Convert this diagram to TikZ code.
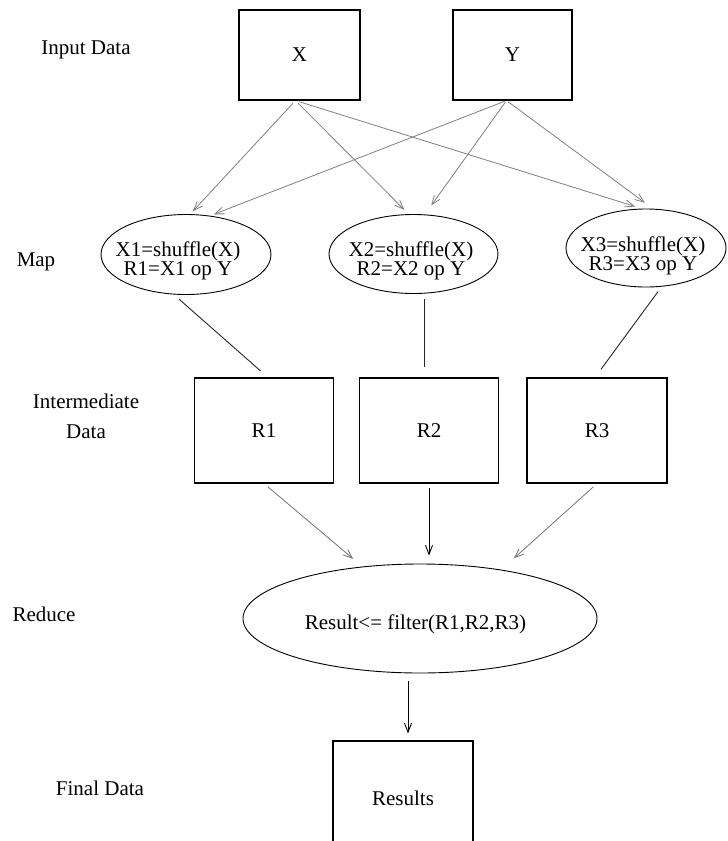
\documentclass[tikz,border=0pt]{standalone}
\usepackage{fontspec}
\setmainfont{Liberation Serif}
\usetikzlibrary{arrows.meta,shapes.geometric}
\begin{document}
\begin{tikzpicture}[x=1pt,y=-1pt,
  lbl/.style={font=\fontsize{21}{30}\selectfont, align=center, inner sep=0pt},
  databox/.style={draw, line width=1.1pt, minimum width=139pt, minimum height=105pt,
    inner sep=0pt, font=\fontsize{21}{25}\selectfont},
  oval/.style={draw, ellipse, line width=0.9pt, inner sep=0pt},
  ovaltext/.style={font=\fontsize{21}{16.5}\selectfont, align=center, inner sep=0pt},
  tip/.style={-{Straight Barb[length=9pt,width=7pt]}},
  feed/.style={tip, draw=black!50, line width=0.8pt},
  link/.style={draw=black!85, line width=0.9pt},
  gather/.style={tip, draw=black!55, line width=0.8pt},
  pass/.style={tip, draw=black, line width=0.9pt}]

\useasboundingbox (0,0) rectangle (728,841);
\clip (0,0) rectangle (728,841);
\fill[white] (0,0) rectangle (728,841);

% stage labels
\node[lbl] (lIn)  at (86,50)   {Input Data};
\node[lbl] (lMap) at (36,262)  {Map};
\node[lbl] (lInt) at (86,416)  {Intermediate\\Data};
\node[lbl] (lRed) at (44,614)  {Reduce};
\node[lbl] (lFin) at (100,788) {Final Data};

% input data
\node[databox, minimum width=121pt, minimum height=90pt] (X) at (299.5,55) {X};
\node[databox, minimum width=119pt, minimum height=90pt] (Y) at (512.5,55) {Y};

% map tasks
\node[oval, minimum width=170pt, minimum height=80pt] (E1) at (186,254.5) {};
\node[oval, minimum width=169pt, minimum height=79pt] (E2) at (413.5,254) {};
\node[oval, minimum width=160pt, minimum height=78pt] (E3) at (646,248) {};
\node[ovaltext] (t1) at (178,261) {X1=shuffle(X)\\R1=X1 op Y};
\node[ovaltext] (t2) at (411,261) {X2=shuffle(X)\\R2=X2 op Y};
\node[ovaltext] (t3) at (643,256) {X3=shuffle(X)\\R3=X3 op Y};

% intermediate data
\node[databox] (R1) at (264,430.5) {R1};
\node[databox] (R2) at (429,430.5) {R2};
\node[databox, minimum width=140pt] (R3) at (597,430.5) {R3};

% reduce
\node[oval, minimum width=354pt, minimum height=109pt] (Red) at (420,618.5) {};
\node[ovaltext] (tRed) at (415.5,624) {Result<= filter(R1,R2,R3)};

% final data
\node[databox, minimum width=140pt, minimum height=114pt] (Res) at (403,798) {Results};

% X and Y go to every map task
\draw[feed, shorten <=4pt, shorten >=4pt]  ([xshift=-4pt]X.south) -- (E1.84);
\draw[feed, shorten <=4pt, shorten >=6pt]  ([xshift=-4pt]X.south) -- (E2.97);
\draw[feed, shorten <=4pt, shorten >=7pt]  ([xshift=-4pt]X.south) -- (E3.96);
\draw[feed, shorten <=2pt, shorten >=4pt]  ([xshift=-6pt]Y.south) -- (E1.58);
\draw[feed, shorten <=2pt, shorten >=11pt] ([xshift=-6pt]Y.south) -- (E2.74);
\draw[feed, shorten <=2pt, shorten >=10pt] ([xshift=-6pt]Y.south) -- (E3.80);

% map outputs
\draw[link, shorten <=7pt, shorten >=10pt] (E1.253) -- ([xshift=4pt]R1.north);
\draw[link, shorten <=5pt, shorten >=10pt] ([xshift=-5pt]R2.north |- E2.south) -- ([xshift=-5pt]R2.north);
\draw[link, shorten <=6pt, shorten >=10pt] (E3.292) -- ([xshift=-2pt]R3.north);

% into the reducer
\draw[gather, shorten <=5pt, shorten >=12pt] (R1.south) -- (Red.138);
\draw[pass,   shorten <=4pt, shorten >=8pt]  (R2.south) -- (R2.south |- Red.north);
\draw[gather, shorten <=5pt, shorten >=17pt] (R3.south) -- (Red.31);

% final result
\draw[pass, shorten <=8pt, shorten >=7pt] ([xshift=5pt]Res.north |- Red.south) -- ([xshift=5pt]Res.north);
\end{tikzpicture}
\end{document}
